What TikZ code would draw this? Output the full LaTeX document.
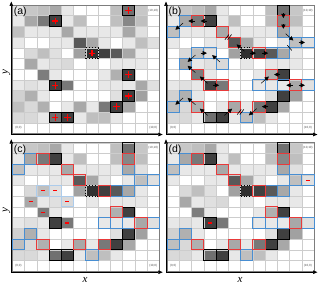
\documentclass[tikz,border=0pt]{standalone}
\usepackage{fontspec}
\setmainfont{Liberation Serif}
\newfontfamily\lblfont{Liberation Sans}
\usetikzlibrary{arrows.meta}
\definecolor{cRed}{RGB}{232,58,58}
\definecolor{cBlue}{RGB}{72,142,210}
\definecolor{cGrid}{RGB}{205,205,205}
\definecolor{cFrame}{RGB}{125,125,125}

%% gray level (percent black) of each cell, top row first
\newcommand{\grayrows}{%
  {9,22,25,34,9,0,0,0,25,56,22,0},
  {9,34,53,75,9,25,0,0,25,47,25,0},
  {25,9,9,9,34,9,9,9,9,34,12,0},
  {9,0,0,9,9,65,34,9,0,9,25,12},
  {0,15,25,12,0,37,81,75,65,34,9,0},
  {0,34,9,12,15,0,9,0,9,9,9,0},
  {0,0,51,9,0,0,0,9,31,75,0,0},
  {9,12,9,75,53,0,0,9,9,9,34,12},
  {18,31,9,0,0,0,0,0,12,75,37,0},
  {25,15,31,0,9,34,9,53,75,34,0,0},
  {15,15,9,56,75,9,25,25,9,0,0,0},
  {0,0,0,0,0,0,0,0,0,0,0,0}}

%% one panel: #1 name, #2 left edge, #3 top edge
\newcommand{\drawpanel}[3]{%
  \foreach \vals [count=\ri] in \grayrows {
    \foreach \g [count=\ci] in \vals {
      \node[cell, fill=black!\g] (#1-\ri-\ci)
        at ({#2+(\ci-0.5)*12.25}, {#3+(\ri-0.5)*10.7}) {};
    }
  }
  \draw[gridframe] (#1-1-1.north west) rectangle (#1-12-12.south east);
  \node[cornertxt] (#1-c00)   at (#1-12-1)  {(0,0)};
  \node[cornertxt] (#1-c100)  at (#1-12-12) {(10,0)};
  \node[cornertxt] (#1-c1010) at (#1-1-12)  {(10,10)};
  \coordinate (#1-org)  at ({#2-1}, {#3+129.5});
  \coordinate (#1-ytip) at ({#2-1}, {#3-3.5});
  \coordinate (#1-xtip) at ({#2+150.5}, {#3+129.5});
  \draw[axisarr] (#1-org) -- (#1-ytip);
  \draw[axisarr] (#1-org) -- (#1-xtip);
}

\begin{document}
\begin{tikzpicture}[
  x=1pt, y=-1pt,
  cell/.style={draw=cGrid, line width=0.4pt, minimum width=12.25pt,
               minimum height=10.7pt, inner sep=0pt, outer sep=0pt},
  gridframe/.style={draw=cFrame, line width=0.8pt},
  cornertxt/.style={inner sep=0pt, text=black!70, font=\lblfont\fontsize{3}{3}\selectfont},
  tag/.style={anchor=north west, inner sep=0.5pt, font=\lblfont\fontsize{10.5}{10.5}\selectfont},
  axislbl/.style={inner sep=0pt, font=\fontsize{11}{11}\selectfont\itshape},
  axisarr/.style={-{Triangle[length=4.5pt, width=3.5pt]}, line width=0.7pt},
  ridge/.style={draw=cRed, line width=0.9pt},
  valley/.style={draw=cBlue, line width=0.9pt},
  peak/.style={draw=black, line width=0.8pt},
  plusmark/.style={draw=red, line width=1.2pt},
  minusmark/.style={draw=red, line width=1.1pt},
  flowarr/.style={-{Triangle[length=4.2pt, width=4.2pt]}, line width=0.5pt,
                  shorten <=3pt, shorten >=3pt},
  brk/.style={draw=black, line width=0.6pt}
]
\useasboundingbox (0,0) rectangle (320,286);

%% ── GRIDS ────────────────────────────────────────────────────────────────────

\drawpanel{a}{12.3}{5}
\drawpanel{b}{167}{5}
\drawpanel{c}{12.3}{142.7}
\drawpanel{d}{167}{142.7}

%% ── PANEL (a): maxima ───────────────────────────────────────────────────────

\foreach \ri/\ci in {1/10, 2/4, 7/10, 8/4, 9/10, 10/9, 11/4, 11/5}
  \draw[peak] (a-\ri-\ci.south west) rectangle (a-\ri-\ci.north east);
\draw[peak, dotted] (a-5-7.south west) rectangle (a-5-7.north east);
\foreach \ri/\ci in {1/10, 2/4, 5/7, 7/10, 8/4, 9/10, 10/9, 11/4, 11/5}
  \draw[plusmark] (a-\ri-\ci.center) +(-3.3,0) -- +(3.3,0) +(0,-3.3) -- +(0,3.3);

%% ── PANELS (b)-(d): ridge and valley cells ──────────────────────────────────

\foreach \p in {b, c, d} {
  \foreach \ri/\ci in {1/10, 2/4, 7/10, 9/10, 10/9, 11/4, 11/5}
    \draw[peak] (\p-\ri-\ci.south west) rectangle (\p-\ri-\ci.north east);
  \draw[peak, dotted] (\p-5-7.south west) rectangle (\p-5-7.north east);
  \foreach \ri/\ci in {2/2, 3/1, 3/10, 4/11, 4/12, 5/9, 5/10, 8/8, 8/9, 8/10,
                       8/12, 9/2, 10/1, 11/7}
    \draw[valley] (\p-\ri-\ci.south west) rectangle (\p-\ri-\ci.north east);
  \foreach \ri/\ci in {2/3, 3/5, 4/6, 5/8, 7/9, 8/11, 10/8, 10/6, 10/3, 2/10}
    \draw[ridge] (\p-\ri-\ci.south west) rectangle (\p-\ri-\ci.north east);
}
\foreach \p in {c, d}
  \draw[peak] (\p-8-4.south west) rectangle (\p-8-4.north east);

%% extra cells of (b)
\foreach \ri/\ci in {5/3, 5/4, 6/2, 6/5}
  \draw[valley] (b-\ri-\ci.south west) rectangle (b-\ri-\ci.north east);
\foreach \ri/\ci in {7/3, 8/4, 8/5}
  \draw[ridge] (b-\ri-\ci.south west) rectangle (b-\ri-\ci.north east);

%% extra cells of (c)
\foreach \ri/\ci in {5/3, 5/4, 6/5}
  \draw[valley, draw=cBlue!45] (c-\ri-\ci.south west) rectangle (c-\ri-\ci.north east);

%% ── PANEL (b): flow arrows ──────────────────────────────────────────────────

\foreach \s/\t in {2-4/2-3, 2-3/2-2, 2-2/3-1, 5-7/4-6, 5-3/5-4, 5-3/6-2,
                   7-3/6-2, 6-5/5-4, 8-4/7-3, 8-4/8-5, 10-3/9-2, 9-2/10-1,
                   11-4/10-3, 11-5/10-6, 1-10/2-10, 2-10/3-10, 3-10/4-11,
                   4-11/4-12, 5-7/5-8, 5-8/5-9, 7-10/7-9, 8-11/8-12,
                   8-11/8-10, 8-8/7-9, 10-9/10-8, 10-8/11-7}
  \draw[flowarr] (b-\s.center) -- (b-\t.center);

%% break marks
\draw[brk] ([xshift=-1.3pt]b-3-5.south east) +(-2,2.6) -- +(2,-2.6)
           ([xshift=1.3pt]b-3-5.south east)  +(-2,2.6) -- +(2,-2.6);
\draw[brk] ([xshift=-1.3pt]b-10-6.south east) +(-2,2.6) -- +(2,-2.6)
           ([xshift=1.3pt]b-10-6.south east)  +(-2,2.6) -- +(2,-2.6);
\draw[brk] (b-4-11.south west) +(-2.2,-2.6) -- +(2.2,2.6);

%% ── PANELS (c), (d): minima marks ───────────────────────────────────────────

\foreach \ri/\ci in {5/3, 5/4, 6/2, 6/5, 7/3, 8/5}
  \draw[minusmark] (c-\ri-\ci.center) +(-2,0) -- +(2,0);
\foreach \ri/\ci in {4/12, 8/4}
  \draw[minusmark] (d-\ri-\ci.center) +(-2,0) -- +(2,0);

%% ── LABELS ───────────────────────────────────────────────────────────────────

\node[tag] (a-tag) at ([xshift=0.8pt, yshift=-1.5pt]a-1-1.north west) {(a)};
\node[tag] (b-tag) at ([xshift=0.8pt, yshift=-1.5pt]b-1-1.north west) {(b)};
\node[tag] (c-tag) at ([xshift=0.8pt, yshift=-1.5pt]c-1-1.north west) {(c)};
\node[tag] (d-tag) at ([xshift=0.8pt, yshift=-1.5pt]d-1-1.north west) {(d)};

\node[axislbl, rotate=90] (ylab-a) at (6.5,72)  {y};
\node[axislbl, rotate=90] (ylab-c) at (6.5,210) {y};
\node[axislbl] (xlab-c) at (85,280)  {x};
\node[axislbl] (xlab-d) at (240,280) {x};

\end{tikzpicture}
\end{document}
